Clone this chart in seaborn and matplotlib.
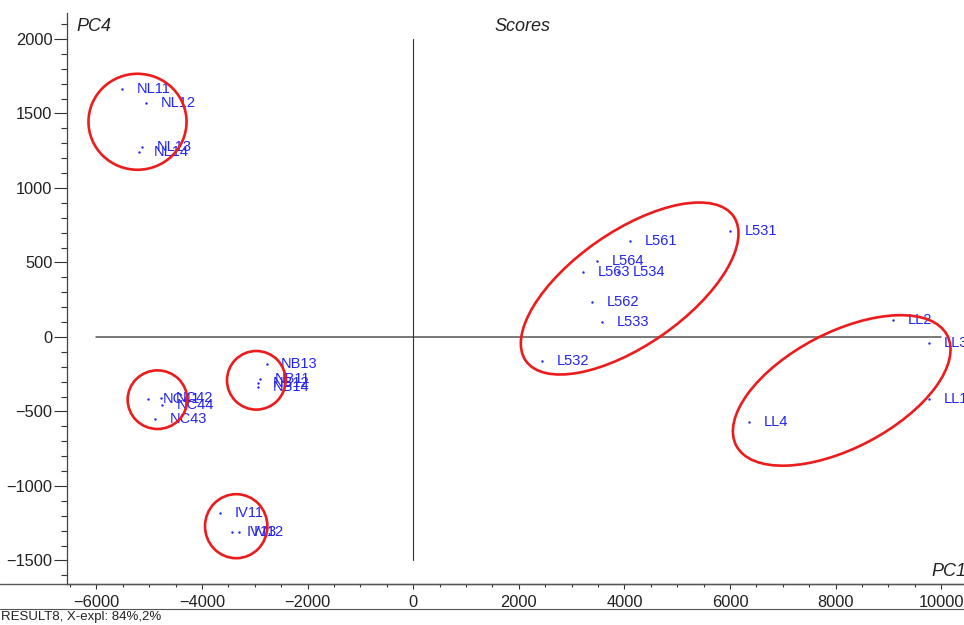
import numpy as np
import matplotlib
matplotlib.use("Agg")
import matplotlib.pyplot as plt
import matplotlib.transforms as mtransforms
from matplotlib.patches import Ellipse
from matplotlib.lines import Line2D
from matplotlib.ticker import MultipleLocator
import seaborn as sns

# Sample scores on PC1 / PC4
samples = ["NL11", "NL12", "NL13", "NL14",
           "NC41", "NC42", "NC44", "NC43",
           "NB13", "NB11", "NB12", "NB14",
           "IV11", "IV13", "IV12",
           "L561", "L531", "L564", "L563", "L534", "L562", "L533", "L532",
           "LL2", "LL3", "LL1", "LL4"]
pc1 = [-5517, -5062, -5134, -5195,
       -5030, -4784, -4754, -4886,
       -2777, -2903, -2941, -2936,
       -3661, -3428, -3295,
       4104, 5998, 3485, 3208, 3877, 3379, 3568, 2432,
       9091, 9773, 9773, 6364]
pc4 = [1664, 1568, 1273, 1242,
       -416, -407, -458, -548,
       -183, -282, -307, -334,
       -1183, -1311, -1307,
       646, 711, 512, 434, 434, 237, 103, -159,
       114, -42, -415, -568]

# Group outlines: centre in score units, size in points, tilt in degrees
ring_pc1 = [-5223, -4845, -2973, -3354, 4098, 8114]
ring_pc4 = [1444, -421, -291, -1270, 325, -359]
ring_w = [70.6, 42.9, 42.2, 44.9, 182.2, 171.4]
ring_h = [69.1, 42.2, 42.2, 46.1, 81.9, 83.2]
ring_tilt = [0, 0, 0, 0, 34.8, 27.6]

x_ticks = [-6000, -4000, -2000, 0, 2000, 4000, 6000, 8000, 10000]
y_ticks = [-1500, -1000, -500, 0, 500, 1000, 1500, 2000]

sns.set_style("ticks")
plt.rcParams["font.family"] = ["Liberation Sans", "DejaVu Sans"]

W, H = 964, 625
fig = plt.figure(figsize=(W / 100, H / 100), dpi=100)
ax = fig.add_axes([66.7 / W, (H - 584) / H, 1 - 66.7 / W, (584 - 13) / H])
ax.set_xlim(-6564, 10430)
ax.set_ylim(-1658, 2174)

# origin cross-hairs
ax.plot([x_ticks[0], x_ticks[-1]], [0, 0], color="#555555", lw=1.1, zorder=1)
ax.plot([0, 0], [y_ticks[0], y_ticks[-1]], color="#333333", lw=0.8, zorder=1)

blue = "#2323f5"
sns.scatterplot(x=pc1, y=pc4, color=blue, s=3, linewidth=0, ax=ax, zorder=3)
for name, x, y in zip(samples, pc1, pc4):
    ax.annotate(name, (x, y), xytext=(10.5, 0), textcoords="offset points",
                ha="left", va="center", fontsize=10.5, color=blue,
                family=["Liberation Sans Narrow", "Liberation Sans"], zorder=4)

for cx, cy, w, h, t in zip(ring_pc1, ring_pc4, ring_w, ring_h, ring_tilt):
    tr = fig.dpi_scale_trans + mtransforms.ScaledTranslation(cx, cy, ax.transData)
    ax.add_patch(Ellipse((0, 0), w / 72, h / 72, angle=t, transform=tr,
                         fill=False, ec="#ec1c1c", lw=1.9, zorder=5))

ax.set_xticks(x_ticks)
ax.set_yticks(y_ticks)
ax.xaxis.set_minor_locator(MultipleLocator(500))
ax.yaxis.set_minor_locator(MultipleLocator(100))
ax.tick_params(which="both", colors="#333333", width=0.8, direction="out")
ax.tick_params(axis="y", which="major", length=9.4, pad=0.8, labelsize=11.8)
ax.tick_params(axis="y", which="minor", length=4.3)
ax.tick_params(axis="x", which="major", length=3.6, pad=4, labelsize=11.8)
ax.tick_params(axis="x", which="minor", length=1.8)
for lab in ax.get_xticklabels() + ax.get_yticklabels():
    lab.set_color("#222222")

sns.despine(ax=ax, top=True, right=True)
for side in ("left", "bottom"):
    ax.spines[side].set_color("#444444")
    ax.spines[side].set_linewidth(0.9)

# baseline runs to the left edge, plus the status-bar separator
fig.add_artist(Line2D([0, 1], [(H - 584) / H] * 2, color="#555555", lw=1.0))
fig.add_artist(Line2D([0, 1], [(H - 609) / H] * 2, color="#555555", lw=0.8))

fig.text(522.5 / W, 1 - 26.7 / H, "Scores", ha="center", va="center",
         style="italic", size=13, color="#222222")
fig.text(76.7 / W, 1 - 26.7 / H, "PC4", ha="left", va="center",
         style="italic", size=13, color="#222222")
fig.text(931.7 / W, 1 - 571.7 / H, "PC1", ha="left", va="center",
         style="italic", size=13, color="#222222")
fig.text(1 / W, 1 - 616.7 / H, "RESULT8, X-expl: 84%,2%", ha="left",
         va="center", size=9.5, color="#222222")

fig.savefig("out.png", dpi=100)
